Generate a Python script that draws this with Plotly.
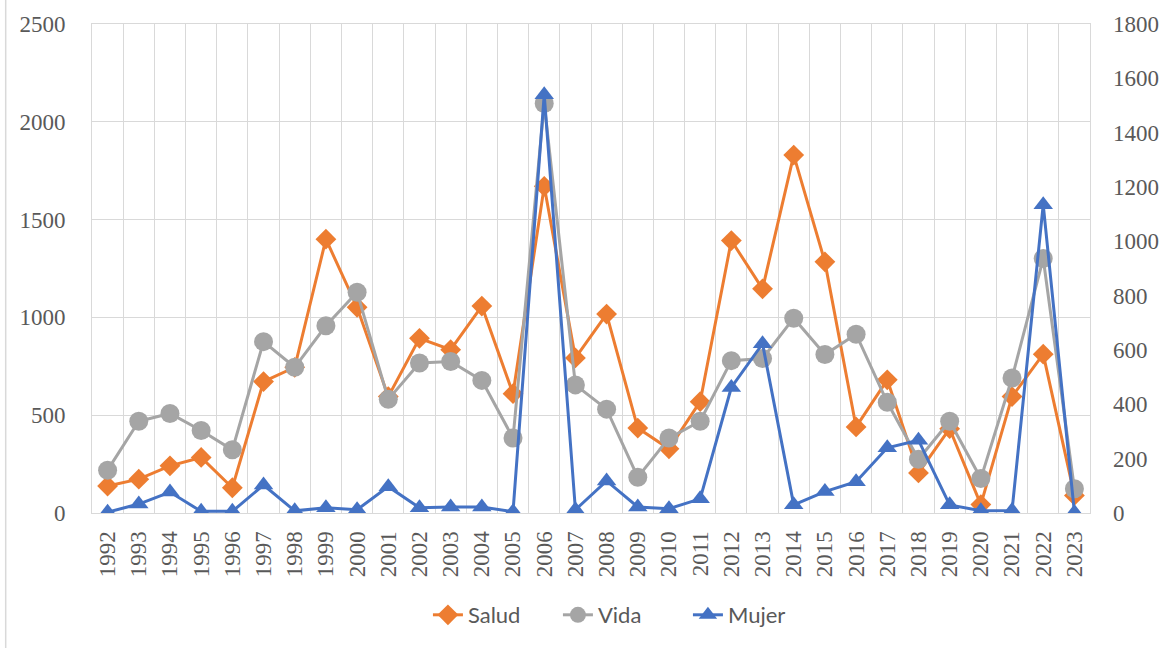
import plotly.graph_objects as go

years = [str(y) for y in range(1992, 2024)]
salud = [138, 173, 241, 284, 129, 672, 745, 1400, 1052, 595, 893, 835, 1058, 610,
         1670, 793, 1017, 434, 328, 569, 1393, 1146, 1830, 1284, 440, 681, 205, 431,
         43, 595, 812, 90]
vida = [219, 469, 509, 422, 323, 876, 745, 957, 1129, 581, 767, 775, 678, 383,
        2094, 655, 531, 183, 383, 469, 779, 790, 996, 810, 914, 566, 275, 469,
        176, 690, 1301, 124]
mujer = [3, 33, 77, 6, 6, 103, 8, 19, 12, 97, 19, 22, 22, 5,
         1540, 12, 118, 22, 16, 52, 462, 623, 30, 79, 115, 240, 268, 30,
         8, 9, 1135, 2]

fig = go.Figure()
fig.add_trace(go.Scatter(x=years, y=salud, name="Salud", mode="lines+markers",
                         line=dict(color="#ED7D31", width=3),
                         marker=dict(symbol="diamond", size=16, color="#ED7D31")))
fig.add_trace(go.Scatter(x=years, y=vida, name="Vida", mode="lines+markers",
                         line=dict(color="#A5A5A5", width=3),
                         marker=dict(symbol="circle", size=19, color="#A5A5A5")))
fig.add_trace(go.Scatter(x=years, y=mujer, name="Mujer", mode="lines+markers",
                         yaxis="y2",
                         line=dict(color="#4472C4", width=3),
                         marker=dict(symbol="triangle-up", size=17, color="#4472C4")))

tickfont = dict(family="Liberation Serif", size=23, color="#595959")
grid = "#D9D9D9"

fig.update_layout(
    width=1171, height=648,
    paper_bgcolor="white", plot_bgcolor="white",
    margin=dict(l=92, r=73, t=24, b=135),
    xaxis=dict(type="category", tickson="boundaries", showgrid=True,
               range=[-0.5, len(years) - 0.5],
               gridcolor=grid, gridwidth=1, ticks="", tickangle=-90,
               tickfont=tickfont, showline=True, linecolor=grid, linewidth=1,
               mirror=True, ticklabelstandoff=8),
    yaxis=dict(range=[0, 2500], dtick=500, showgrid=True, gridcolor=grid,
               gridwidth=1, zeroline=False, ticks="", tickfont=tickfont,
               showline=True, linecolor=grid, mirror=True,
               ticklabelstandoff=21),
    yaxis2=dict(range=[0, 1800], dtick=200, overlaying="y", side="right",
                showgrid=False, zeroline=False, ticks="", tickfont=tickfont,
                ticklabelstandoff=22),
    legend=dict(orientation="h", x=0.532, xanchor="center", y=(513 - 615) / 489,
                yanchor="middle", font=dict(family="Lato", size=22,
                                            color="#595959"),
                entrywidth=85, traceorder="normal"),
    showlegend=True,
    shapes=[dict(type="line", xref="paper", yref="paper",
                 x0=(5 - 92) / 1006, x1=(5 - 92) / 1006,
                 y0=(513 - 648) / 489, y1=513 / 489,
                 line=dict(color=grid, width=1.5))],
)

fig.write_html("out.html", post_script="document.body.style.margin='0';",
               config={"displayModeBar": False})
